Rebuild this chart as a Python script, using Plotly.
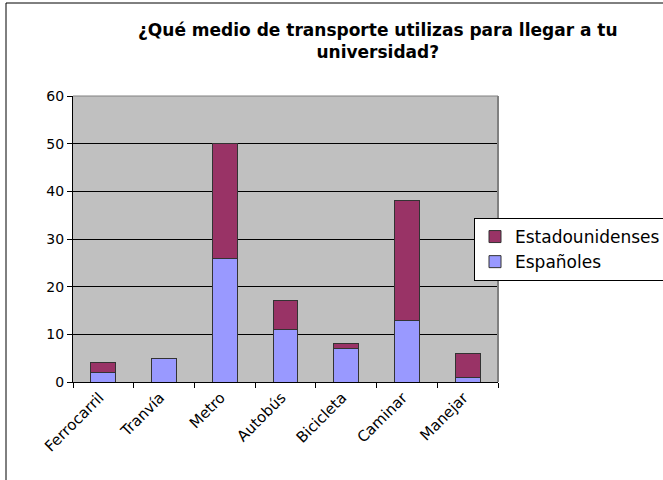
import plotly.graph_objects as go

categories = ["Ferrocarril", "Tranvía", "Metro", "Autobús", "Bicicleta", "Caminar", "Manejar"]
espanoles = [2, 5, 26, 11, 7, 13, 1]
estadounidenses = [2, 0, 24, 6, 1, 25, 5]
y_ticks = [0, 10, 20, 30, 40, 50, 60]
title_text = "<b>¿Qué medio de transporte utilizas para llegar a tu<br>universidad?</b>"

W, H = 663, 480
L, R, T, B = 73, 498, 96, 382
pw, ph = R - L, B - T


def px(x):
    return (x - L) / pw


def py(y):
    return (B - y) / ph


fig = go.Figure()
fig.add_trace(go.Bar(x=categories, y=espanoles, name="Españoles",
                     marker=dict(color="#9999FF", line=dict(color="#333333", width=1))))
fig.add_trace(go.Bar(x=categories, y=estadounidenses, name="Estadounidenses",
                     marker=dict(color="#993366", line=dict(color="#333333", width=1))))

fig.update_layout(
    width=W, height=H,
    margin=dict(l=L, r=W - R, t=T, b=H - B, autoexpand=False),
    paper_bgcolor="white",
    plot_bgcolor="#C0C0C0",
    barmode="stack",
    bargap=0.59,
    font=dict(family="DejaVu Sans, Verdana, sans-serif", color="black", size=13),
    legend=dict(x=px(474), y=py(218), xanchor="left", yanchor="top",
                traceorder="reversed", bordercolor="black", borderwidth=1,
                bgcolor="white", font=dict(size=17), itemwidth=30,
                tracegroupgap=0),
    xaxis=dict(showline=True, linecolor="black", linewidth=1,
               ticks="outside", tickson="boundaries", ticklen=5, tickcolor="black",
               tickangle=-45, showgrid=False, tickfont=dict(size=15),
               ticklabelshift=-4),
    yaxis=dict(range=[0, 60], tickvals=y_ticks, showline=True, linecolor="black",
               linewidth=1, ticks="outside", ticklen=5, tickcolor="black",
               showgrid=True, gridcolor="black", gridwidth=1, zeroline=False,
               tickfont=dict(size=14)),
    annotations=[
        dict(text=title_text, xref="paper", yref="paper", x=px(378), y=py(18),
             xanchor="center", yanchor="top", showarrow=False, align="center",
             font=dict(size=17, family="DejaVu Sans, Verdana, sans-serif")),
    ],
    shapes=[
        dict(type="line", xref="paper", yref="paper", x0=0, x1=1, y0=1, y1=1,
             line=dict(color="#808080", width=1)),
        dict(type="line", xref="paper", yref="paper", x0=1, x1=1, y0=0, y1=1,
             line=dict(color="#808080", width=2)),
        dict(type="line", xref="paper", yref="paper", x0=px(6), x1=px(6), y0=py(490), y1=py(3),
             line=dict(color="black", width=1)),
        dict(type="line", xref="paper", yref="paper", x0=px(6), x1=px(670), y0=py(3), y1=py(3),
             line=dict(color="black", width=1)),
    ],
)

fig.write_html("out.html", config={"displayModeBar": False},
               post_script="document.body.style.margin='0px';")
